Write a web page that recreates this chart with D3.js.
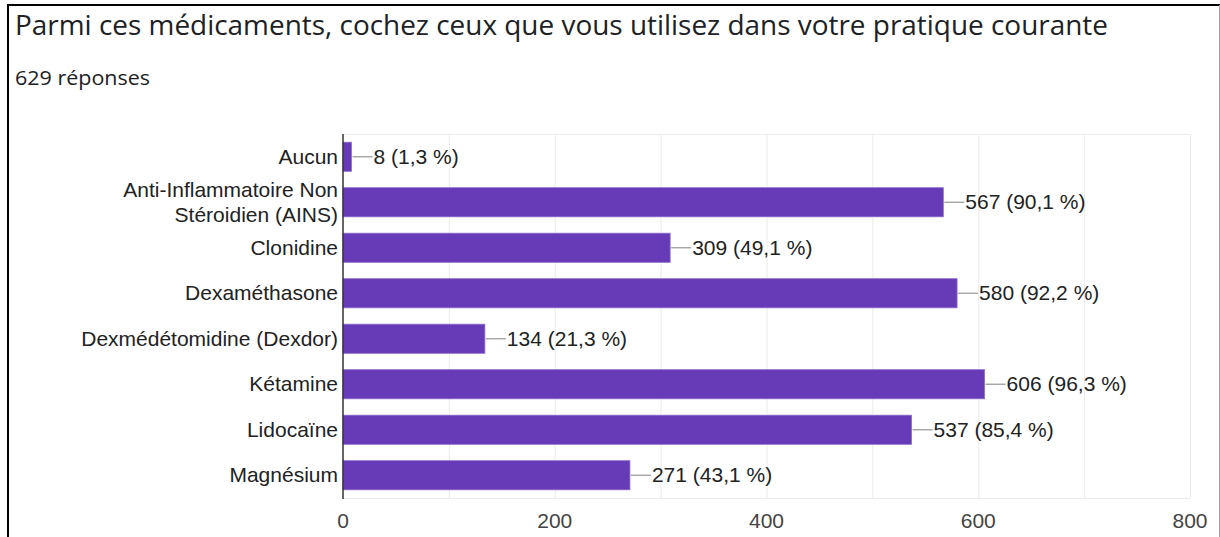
<!DOCTYPE html>
<html>
<head>
<meta charset="utf-8">
<script src="https://cdn.jsdelivr.net/npm/d3@7"></script>
<style>
  html, body { margin: 0; padding: 0; background: #fff; }
  svg { display: block; }
</style>
</head>
<body>
<svg id="chart" width="1220" height="537"></svg>
<script>
const title = "Parmi ces médicaments, cochez ceux que vous utilisez dans votre pratique courante";
const subtitle = "629 réponses";
const categories = [
  "Aucun",
  "Anti-Inflammatoire Non Stéroidien (AINS)",
  "Clonidine",
  "Dexaméthasone",
  "Dexmédétomidine (Dexdor)",
  "Kétamine",
  "Lidocaïne",
  "Magnésium"
];
const categoryLines = [
  ["Aucun"],
  ["Anti-Inflammatoire Non", "Stéroidien (AINS)"],
  ["Clonidine"],
  ["Dexaméthasone"],
  ["Dexmédétomidine (Dexdor)"],
  ["Kétamine"],
  ["Lidocaïne"],
  ["Magnésium"]
];
const values = [8, 567, 309, 580, 134, 606, 537, 271];
const percents = ["1,3", "90,1", "49,1", "92,2", "21,3", "96,3", "85,4", "43,1"];
const majorTicks = [0, 200, 400, 600, 800];
const gridTicks = [100, 200, 300, 400, 500, 600, 700, 800];

const svg = d3.select("#chart");
const labelFont = "Arial, 'Liberation Sans', sans-serif";

// outer frame
svg.append("line").attr("x1", 8).attr("x2", 8).attr("y1", 4).attr("y2", 537)
  .attr("stroke", "#000").attr("stroke-width", 2);
svg.append("line").attr("x1", 7).attr("x2", 1220).attr("y1", 5).attr("y2", 5)
  .attr("stroke", "#000").attr("stroke-width", 2);
svg.append("line").attr("x1", 1219.5).attr("x2", 1219.5).attr("y1", 5).attr("y2", 537)
  .attr("stroke", "#9e9e9e").attr("stroke-width", 1);

// title
svg.append("text").attr("x", 15).attr("y", 35)
  .attr("font-family", "'Open Sans', Roboto, sans-serif").attr("font-size", 26.5)
  .attr("textLength", 1093).attr("lengthAdjust", "spacingAndGlyphs")
  .attr("fill", "#202124").text(title);
svg.append("text").attr("x", 15).attr("y", 85)
  .attr("font-family", "'Open Sans', Roboto, sans-serif").attr("font-size", 20)
  .attr("textLength", 135).attr("lengthAdjust", "spacingAndGlyphs")
  .attr("fill", "#202124").text(subtitle);

const x = d3.scaleLinear().domain([0, 800]).range([343, 1190]);
const y = d3.scaleBand().domain(categories).range([134, 498])
  .paddingInner(0.36).paddingOuter(0.18);

// grid
const g = svg.append("g");
g.selectAll("line.grid").data(gridTicks).enter().append("line")
  .attr("class", "grid")
  .attr("x1", d => x(d) + 0.5).attr("x2", d => x(d) + 0.5)
  .attr("y1", 134).attr("y2", 498)
  .attr("stroke", "#ebebeb").attr("stroke-width", 1);
g.append("line").attr("x1", x(0)).attr("x2", x(800)).attr("y1", 134.5).attr("y2", 134.5)
  .attr("stroke", "#ebebeb");
g.append("line").attr("x1", x(0)).attr("x2", x(800)).attr("y1", 498.5).attr("y2", 498.5)
  .attr("stroke", "#ebebeb");

// bars
g.selectAll("rect.bar").data(values).enter().append("rect")
  .attr("class", "bar")
  .attr("x", x(0))
  .attr("y", (d, i) => y(categories[i]))
  .attr("width", d => x(d) - x(0))
  .attr("height", y.bandwidth())
  .attr("fill", "#673ab7")
  .attr("stroke", "#8c6cc9").attr("stroke-width", 0.8);

// leader lines and value labels
g.selectAll("line.leader").data(values).enter().append("line")
  .attr("class", "leader")
  .attr("x1", d => x(d) + 1).attr("x2", d => x(d) + 21)
  .attr("y1", (d, i) => y(categories[i]) + y.bandwidth() / 2)
  .attr("y2", (d, i) => y(categories[i]) + y.bandwidth() / 2)
  .attr("stroke", "#9e9e9e").attr("stroke-width", 1.3);
g.selectAll("text.val").data(values).enter().append("text")
  .attr("class", "val")
  .attr("x", d => x(d) + 22)
  .attr("y", (d, i) => y(categories[i]) + y.bandwidth() / 2)
  .attr("dy", "0.34em")
  .attr("font-family", labelFont).attr("font-size", 21)
  .attr("fill", "#222")
  .text((d, i) => `${d} (${percents[i]} %)`);

// axis line at zero
g.append("line").attr("x1", x(0)).attr("x2", x(0)).attr("y1", 134).attr("y2", 499)
  .attr("stroke", "#333").attr("stroke-width", 1.5);

// category labels
categories.forEach((c, i) => {
  const lines = categoryLines[i];
  const cy = y(c) + y.bandwidth() / 2;
  const lh = 25;
  const start = cy - (lines.length - 1) * lh / 2;
  lines.forEach((ln, j) => {
    svg.append("text")
      .attr("x", 338).attr("y", start + j * lh).attr("dy", "0.34em")
      .attr("text-anchor", "end")
      .attr("font-family", labelFont).attr("font-size", 21)
      .attr("fill", "#222").text(ln);
  });
});

// x tick labels
svg.selectAll("text.tick").data(majorTicks).enter().append("text")
  .attr("class", "tick")
  .attr("x", d => x(d)).attr("y", 528)
  .attr("text-anchor", "middle")
  .attr("font-family", labelFont).attr("font-size", 21)
  .attr("fill", "#444").text(d => d);
</script>
</body>
</html>
